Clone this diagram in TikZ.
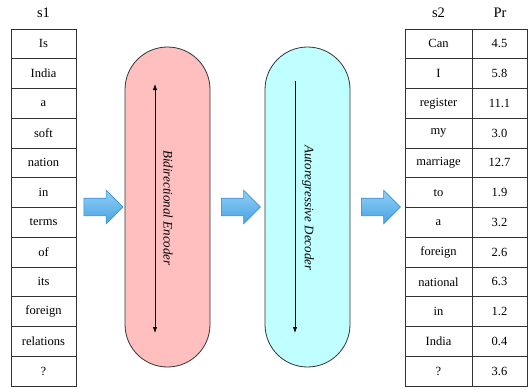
\documentclass[tikz,border=0pt]{standalone}
\usepackage{fontspec}
\setmainfont{Liberation Serif}
\usetikzlibrary{shapes.arrows,arrows.meta}
\definecolor{pinkfill}{HTML}{FFBFBF}
\definecolor{cyanfill}{HTML}{BFFFFF}
\definecolor{arrowtop}{HTML}{8FD0F7}
\definecolor{arrowbot}{HTML}{4AA2E2}
\definecolor{arrowedge}{HTML}{3A8FD2}
\definecolor{edgegray}{HTML}{333333}
\begin{document}
\begin{tikzpicture}[x=1pt,y=-1pt,
  cell/.style={draw=edgegray,line width=0.8pt,minimum height=29.75pt,inner sep=0pt,font=\fontsize{12.5}{14}\selectfont,anchor=center},
  hdr/.style={font=\fontsize{14.5}{16}\selectfont},
  capsule/.style={draw=edgegray,line width=0.8pt,minimum width=85pt,minimum height=320pt,rounded corners=42.5pt,inner sep=0pt},
  blockarrow/.style={single arrow,draw=arrowedge,line width=0.6pt,top color=arrowtop,bottom color=arrowbot,
     minimum height=39pt,inner xsep=0pt,inner ysep=8.5pt,single arrow head extend=8pt,shape border rotate=0},
  inarrow/.style={line width=0.8pt,-{Latex[length=6pt,width=4.5pt]}},
  lbl/.style={font=\fontsize{13}{15}\selectfont\itshape,rotate=-90}
]
\useasboundingbox (0,0) rectangle (530,389);
% headers
\node[hdr] (h1) at (43.5,13) {s1};
\node[hdr] (h2) at (438.5,13) {s2};
\node[hdr] (h3) at (500,13) {Pr};
% left table
\foreach \w [count=\i from 0] in {Is,India,a,soft,nation,in,terms,of,its,foreign,relations,?}{
  \node[cell,minimum width=65pt] (L\i) at (43.5,{29+29.75*(\i+0.5)}) {\w};
}
% right table
\foreach \w/\p [count=\i from 0] in {Can/4.5,I/5.8,register/11.1,my/3.0,marriage/12.7,to/1.9,a/3.2,foreign/2.6,national/6.3,in/1.2,India/0.4,?/3.6}{
  \node[cell,minimum width=67pt] (S\i) at (438.5,{29+29.75*(\i+0.5)}) {\w};
  \node[cell,minimum width=55pt] (P\i) at (499.5,{29+29.75*(\i+0.5)}) {\p};
}
% capsules
\node[capsule,fill=pinkfill] (enc) at (167.5,207) {};
\node[capsule,fill=cyanfill] (dec) at (307.5,207) {};
\coordinate (e1) at (155,84);
\coordinate (e2) at (155,333);
\coordinate (d1) at (295,81);
\coordinate (d2) at (295,333);
\draw[line width=0.8pt,{Latex[length=6pt,width=4.5pt]}-{Latex[length=6pt,width=4.5pt]}] (e2) -- (e1);
\draw[inarrow] (d1) -- (d2);
\node[lbl] (encl) at (168,208) {Bidirectional Encoder};
\node[lbl] (decl) at (308,208) {Autoregressive Decoder};
% block arrows
\node[blockarrow] (a1) at (99,207) {};
\node[blockarrow] (a2) at (236.5,207) {};
\node[blockarrow] (a3) at (376.5,207) {};
\end{tikzpicture}
\end{document}
